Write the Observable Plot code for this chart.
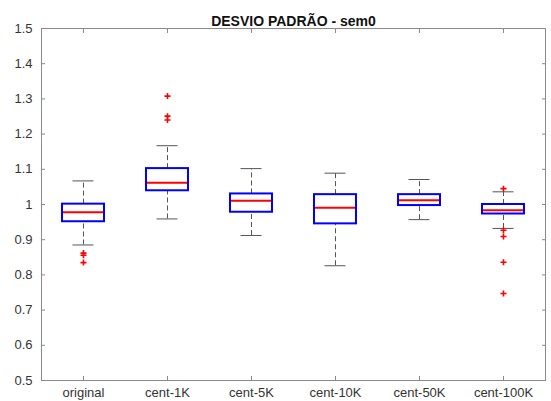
<!DOCTYPE html>
<html>
<head>
<meta charset="utf-8">
<script src="https://cdn.jsdelivr.net/npm/d3@7"></script>
<script src="https://cdn.jsdelivr.net/npm/@observablehq/plot@0.6"></script>
<style>
  html, body { margin: 0; padding: 0; background: #fff; }
  #chart svg { display: block; }
</style>
</head>
<body>
<div id="chart"></div>
<script>
const title = "DESVIO PADRÃO - sem0";
const categories = ["original", "cent-1K", "cent-5K", "cent-10K", "cent-50K", "cent-100K"];
const whiskerHi = [1.067, 1.167, 1.102, 1.089, 1.071, 1.036];
const q3 =        [1.001, 1.102, 1.030, 1.028, 1.028, 1.000];
const median =    [0.978, 1.062, 1.011, 0.991, 1.012, 0.984];
const q1 =        [0.951, 1.039, 0.978, 0.945, 0.997, 0.973];
const whiskerLo = [0.885, 0.959, 0.912, 0.826, 0.957, 0.932];
const outliers = [
  [0.862, 0.856, 0.835],
  [1.308, 1.251, 1.240],
  [],
  [],
  [],
  [1.045, 0.927, 0.909, 0.836, 0.747]
];
const yTicks = [0.5, 0.6, 0.7, 0.8, 0.9, 1.0, 1.1, 1.2, 1.3, 1.4, 1.5];

const stats = categories.map((c, i) => ({
  cat: c, lo: whiskerLo[i], q1: q1[i], med: median[i], q3: q3[i], hi: whiskerHi[i]
}));
const outlierData = categories.flatMap((c, i) => outliers[i].map(v => ({cat: c, v})));

const fmt = d => String(+d.toFixed(1));
const textColor = "#333";
const axisColor = "#8a8a8a";

const chart = Plot.plot({
  width: 551,
  height: 401,
  marginTop: 28,
  marginBottom: 21,
  marginLeft: 41,
  marginRight: 6,
  style: {fontFamily: "'Liberation Sans', Arial, sans-serif", fontSize: "13px", color: textColor, background: "#fff"},
  x: {domain: categories, paddingInner: 0.5, paddingOuter: 0.25},
  y: {domain: [0.5, 1.5]},
  marks: [
    Plot.frame({stroke: axisColor}),
    Plot.axisY({anchor: "left", ticks: yTicks, tickFormat: fmt, tickSize: -4, tickPadding: 13, stroke: axisColor, fill: textColor, label: null}),
    Plot.axisY({anchor: "right", ticks: yTicks, tickFormat: () => "", tickSize: -4, tickPadding: 0, stroke: axisColor, label: null}),
    Plot.axisX({anchor: "bottom", tickSize: -4, tickPadding: 11, stroke: axisColor, fill: textColor, label: null}),
    Plot.axisX({anchor: "top", tickSize: -4, tickFormat: () => "", tickPadding: 0, stroke: axisColor, label: null}),
    Plot.ruleX(stats, {x: "cat", y1: "q3", y2: "hi", stroke: "#555", strokeWidth: 1, strokeDasharray: "5,3"}),
    Plot.ruleX(stats, {x: "cat", y1: "lo", y2: "q1", stroke: "#555", strokeWidth: 1, strokeDasharray: "5,3"}),
    Plot.tickY(stats, {x: "cat", y: "hi", stroke: "#555", strokeWidth: 1, insetLeft: 10.5, insetRight: 10.5}),
    Plot.tickY(stats, {x: "cat", y: "lo", stroke: "#555", strokeWidth: 1, insetLeft: 10.5, insetRight: 10.5}),
    Plot.barY(stats, {x: "cat", y1: "q1", y2: "q3", fill: "white", stroke: "#0000ff", strokeWidth: 2}),
    Plot.tickY(stats, {x: "cat", y: "med", stroke: "#ff0000", strokeWidth: 2, insetLeft: 1, insetRight: 1}),
    Plot.dot(outlierData, {x: "cat", y: "v", symbol: "plus", stroke: "#ff0000", strokeWidth: 1.6, r: 2.1}),
    Plot.text([title], {frameAnchor: "top", dy: -12, fontWeight: "bold", fontSize: 14, fill: "#111"})
  ]
});
document.getElementById("chart").appendChild(chart);
</script>
</body>
</html>
